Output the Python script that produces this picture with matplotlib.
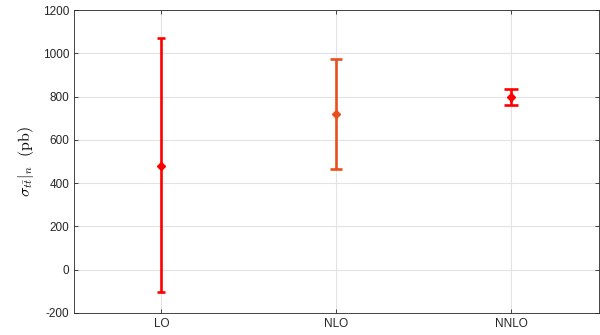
import matplotlib.pyplot as plt
import numpy as np

plt.rcParams['font.family'] = ['Liberation Sans', 'DejaVu Sans']
plt.rcParams['mathtext.fontset'] = 'cm'
plt.rcParams['axes.unicode_minus'] = False

# data
orders = ['LO', 'NLO', 'NNLO']
central = [480, 720, 800]
upper = [1070, 975, 835]
lower = [-105, 465, 762]
colors = ['#ff0000', '#e8501e', '#ff0000']
caps = [3.0, 4.0, 5.0]

fig = plt.figure(figsize=(6, 3.35), dpi=100, facecolor='white')
ax = fig.add_axes([0.1233, 0.0657, 0.875, 0.904])

x = np.arange(1, len(orders) + 1)
for i in range(len(orders)):
    err = [[central[i] - lower[i]], [upper[i] - central[i]]]
    ax.errorbar(x[i], central[i], yerr=err, fmt='D', color=colors[i],
                ecolor=colors[i], elinewidth=1.9, capsize=caps[i], capthick=1.9,
                markersize=4.2, zorder=3)

ax.set_xlim(0.5, 3.5)
ax.set_ylim(-200, 1200)
ax.set_xticks(x)
ax.set_xticklabels(orders)
ax.set_yticks(np.arange(-200, 1201, 200))
ax.grid(True, color='#e3e3e3', linewidth=0.8)
ax.set_axisbelow(True)
ax.tick_params(direction='in', length=3, width=0.6, color='#262626',
               labelsize=8.5, labelcolor='#262626', top=True, right=True,
               labeltop=False, labelright=False)
for s in ax.spines.values():
    s.set_color('#262626')
    s.set_linewidth(0.6)

ax.set_ylabel(r'$\sigma_{t\bar{t}}|_{n}\ \ \mathrm{(pb)}$', fontsize=11.5, labelpad=5)

plt.savefig('out.png', dpi=100, facecolor='white')
plt.close()
